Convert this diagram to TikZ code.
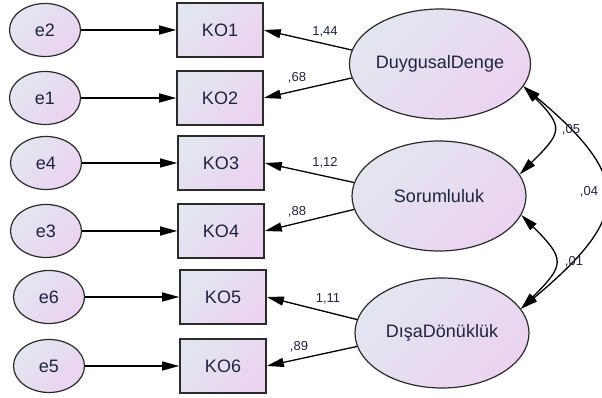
\documentclass[tikz,border=0pt]{standalone}
\usepackage{fontspec}
\setmainfont{Liberation Sans}
\usetikzlibrary{arrows.meta, shapes.geometric}

\definecolor{fillA}{HTML}{E2E6EF}
\definecolor{fillB}{HTML}{EBD3F1}
\definecolor{ink}{HTML}{1E2440}
\definecolor{edge}{HTML}{2B2B2B}

\begin{document}
\begin{tikzpicture}[x=1pt, y=1pt,
  base/.style={draw=edge, top color=fillA, bottom color=fillB, shading angle=45,
    text=ink, font=\fontsize{18}{20}\selectfont, inner sep=0pt},
  errnode/.style={base, ellipse, minimum width=71pt, minimum height=53pt, line width=1.2pt},
  obsnode/.style={base, rectangle, minimum width=86pt, minimum height=54pt, line width=1.6pt},
  latnode/.style={base, ellipse, minimum width=174pt, minimum height=110pt, line width=1.2pt},
  link/.style={-{Triangle[length=17pt,width=9pt]}, line width=1.3pt, draw=black},
  cov/.style={{Triangle[length=17pt,width=9pt]}-{Triangle[length=17pt,width=9pt]},
    line width=1.3pt, draw=black},
  coef/.style={text=ink, font=\fontsize{13}{15}\selectfont, inner sep=0pt}
]
\useasboundingbox (0,0) rectangle (602,398);
\clip (0,0) rectangle (602,398);

% error terms
\node[errnode] (e2) at (45,368) {e2};
\node[errnode] (e1) at (45,300) {e1};
\node[errnode] (e4) at (46,235) {e4};
\node[errnode] (e3) at (46,167) {e3};
\node[errnode] (e6) at (49,101) {e6};
\node[errnode] (e5) at (49,32)  {e5};

% observed items
\node[obsnode] (KO1) at (220,368) {KO1};
\node[obsnode] (KO2) at (220,300) {KO2};
\node[obsnode] (KO3) at (221,235) {KO3};
\node[obsnode] (KO4) at (221,167) {KO4};
\node[obsnode] (KO5) at (223,101) {KO5};
\node[obsnode] (KO6) at (223,32)  {KO6};

% latent factors
\node[latnode] (DD) at (440,334) {DuygusalDenge};
\node[latnode] (SO) at (439,202) {Sorumluluk};
\node[latnode] (DO) at (442,65)  {DışaDönüklük};

% error paths
\draw[link] (e2) -- (KO1);
\draw[link] (e1) -- (KO2);
\draw[link] (e4) -- (KO3);
\draw[link] (e3) -- (KO4);
\draw[link] (e6) -- (KO5);
\draw[link] (e5) -- (KO6);

% factor loadings
\draw[link] (DD.171) -- (KO1.east);
\draw[link] (DD.189) -- (KO2.east);
\draw[link] (SO.171) -- (KO3.east);
\draw[link] (SO.189) -- (KO4.east);
\draw[link] (DO.171) -- (KO5.east);
\draw[link] (DO.189) -- (KO6.east);

\node[coef] (l1) at (325,366) {1,44};
\node[coef] (l2) at (297,320) {,68};
\node[coef] (l3) at (325,235) {1,12};
\node[coef] (l4) at (297,186) {,88};
\node[coef] (l5) at (328,99)  {1,11};
\node[coef] (l6) at (299,51)  {,89};

% covariances
\draw[cov] (DD.-15) to[out=-45,in=45,looseness=1.7] (SO.15);
\draw[cov] (SO.-13) to[out=-45,in=45,looseness=1.7] (DO.17);
\draw[cov] (DD.-15) to[out=-40,in=40,looseness=1.65] (DO.17);

\node[coef] (c1) at (571,268) {,05};
\node[coef] (c2) at (574,136) {,01};
\node[coef] (c3) at (589,206) {,04};
\end{tikzpicture}
\end{document}
